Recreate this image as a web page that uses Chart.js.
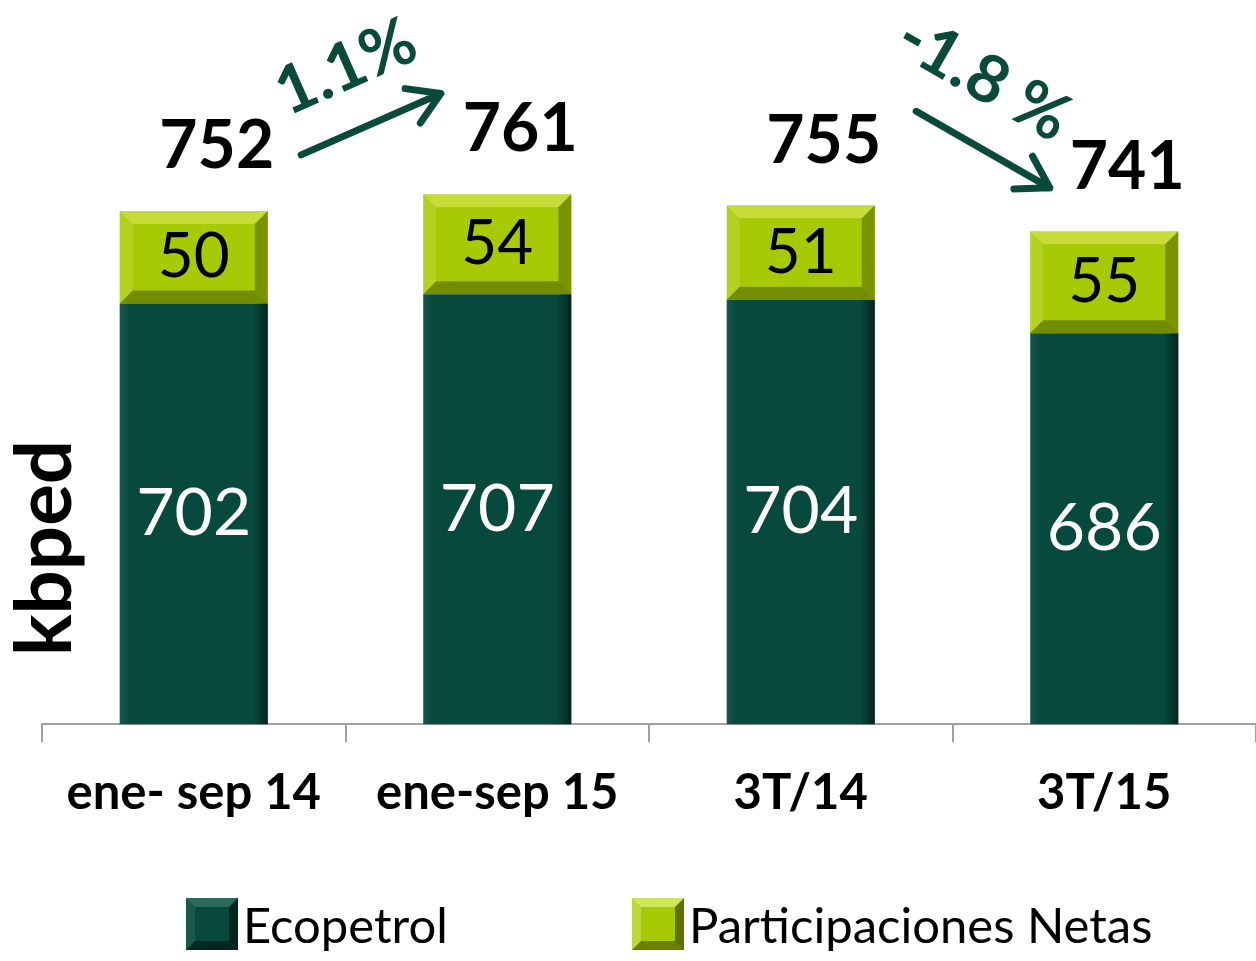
<!DOCTYPE html>
<html>
<head>
<meta charset="utf-8">
<script src="https://cdn.jsdelivr.net/npm/chart.js@4.4.0/dist/chart.umd.min.js"></script>
<style>
html, body { margin: 0; padding: 0; background: #fff; }
.wrap { position: relative; width: 1256px; height: 961px; }
.legend { position: absolute; left: 0; top: 898px; width: 1256px; height: 52px; font-family: Lato, sans-serif; font-size: 49px; color: #000; }
.item { position: absolute; top: 0; height: 52px; display: flex; align-items: center; white-space: nowrap; }
.box { display: inline-block; width: 52px; height: 52px; box-sizing: border-box; border: 9px solid; margin-right: 5px; }
</style>
</head>
<body>
<div class="wrap">
  <canvas id="chart"></canvas>
  <div class="legend" id="legend"></div>
</div>
<script>
const categories = ['ene- sep 14', 'ene-sep 15', '3T/14', '3T/15'];
const seriesNames = ['Ecopetrol', 'Participaciones Netas'];
const ecopetrol = [702, 707, 704, 686];
const participaciones = [50, 54, 51, 55];
const totals = [752, 761, 755, 741];
const changeFrom = [0, 2];
const changeTo = [1, 3];
const changeLabels = ['1.1%', '-1.8 %'];

const darkGreen = '#074a3d';
const lime = '#a6ca03';
const arrowGreen = '#0a4a3b';

Chart.defaults.font.family = 'Lato';

// bisel de las barras
const bevelPlugin = {
  id: 'bevel',
  afterDatasetsDraw(chart) {
    const ctx = chart.ctx;
    const area = chart.chartArea;
    chart.data.datasets.forEach((ds, d) => {
      chart.getDatasetMeta(d).data.forEach(bar => {
        const p = bar.getProps(['x', 'y', 'base', 'width'], true);
        const l = p.x - p.width / 2, r = p.x + p.width / 2;
        const t = Math.min(p.y, p.base), b = Math.min(Math.max(p.y, p.base), area.bottom);
        ctx.save();
        if (d === 1) {
          const s = 13;
          poly(ctx, [[l, t], [r, t], [r - s, t + s], [l + s, t + s]], 'rgba(255,255,160,0.35)');
          poly(ctx, [[l, t], [l + s, t + s], [l + s, b - s], [l, b]], 'rgba(255,255,200,0.15)');
          poly(ctx, [[r, t], [r, b], [r - s, b - s], [r - s, t + s]], 'rgba(40,50,0,0.35)');
          poly(ctx, [[l, b], [r, b], [r - s, b - s], [l + s, b - s]], 'rgba(40,50,0,0.4)');
        } else {
          const g = ctx.createLinearGradient(l, 0, r, 0);
          g.addColorStop(0, 'rgba(255,255,255,0.07)');
          g.addColorStop(0.07, 'rgba(255,255,255,0.0)');
          g.addColorStop(0.9, 'rgba(0,0,0,0.0)');
          g.addColorStop(1, 'rgba(0,0,0,0.5)');
          ctx.fillStyle = g;
          ctx.fillRect(l, t, r - l, b - t);
        }
        ctx.restore();
      });
    });
  }
};

function poly(ctx, pts, color) {
  ctx.beginPath();
  ctx.moveTo(pts[0][0], pts[0][1]);
  for (let i = 1; i < pts.length; i++) ctx.lineTo(pts[i][0], pts[i][1]);
  ctx.closePath();
  ctx.fillStyle = color;
  ctx.fill();
}

function arrow(ctx, x1, y1, x2, y2) {
  const a = Math.atan2(y2 - y1, x2 - x1);
  const h = 36;
  ctx.beginPath();
  ctx.moveTo(x1, y1);
  ctx.lineTo(x2, y2);
  ctx.moveTo(x2 - h * Math.cos(a - 0.55), y2 - h * Math.sin(a - 0.55));
  ctx.lineTo(x2, y2);
  ctx.lineTo(x2 - h * Math.cos(a + 0.55), y2 - h * Math.sin(a + 0.55));
  ctx.stroke();
}

const labelPlugin = {
  id: 'labels',
  afterDatasetsDraw(chart) {
    const ctx = chart.ctx;
    const area = chart.chartArea;
    const eco = chart.getDatasetMeta(0).data;
    const part = chart.getDatasetMeta(1).data;
    ctx.save();
    ctx.textAlign = 'center';
    ctx.textBaseline = 'middle';
    eco.forEach((bar, i) => {
      ctx.font = '66px Lato';
      ctx.fillStyle = '#fff';
      ctx.fillText(ecopetrol[i], bar.x, (bar.y + Math.min(bar.base, area.bottom)) / 2);
    });
    const boxes = [];
    part.forEach((bar, i) => {
      ctx.font = '62px Lato';
      ctx.fillStyle = '#000';
      ctx.fillText(participaciones[i], bar.x, (bar.y + bar.base) / 2);
      ctx.font = 'bold 66px Lato';
      const tx = bar.x + 23, ty = bar.y - 64;
      ctx.fillText(totals[i], tx, ty);
      const w = ctx.measureText(String(totals[i])).width;
      boxes.push({ l: tx - w / 2, r: tx + w / 2, y: ty });
    });
    // flechas de variacion
    ctx.strokeStyle = arrowGreen;
    ctx.fillStyle = arrowGreen;
    ctx.lineWidth = 7;
    ctx.lineCap = 'round';
    ctx.lineJoin = 'round';
    changeFrom.forEach((f, k) => {
      const a = boxes[f], b = boxes[changeTo[k]];
      const down = totals[changeTo[k]] < totals[f];
      const x1 = a.r + (down ? 35 : 27);
      const x2 = b.l - (down ? 20 : 22);
      const ang = down ? 0.52 : -0.414;
      const y1 = down ? a.y - 30 : a.y + 8;
      const y2 = y1 + (x2 - x1) * Math.tan(ang);
      arrow(ctx, x1, y1, x2, y2);
      const back = down ? 35 : 0;
      const mx = (x1 + x2) / 2 - back * Math.cos(ang), my = (y1 + y2) / 2 - back * Math.sin(ang);
      const off = 62;
      ctx.save();
      ctx.translate(mx + off * Math.sin(ang), my - off * Math.cos(ang));
      ctx.rotate(ang);
      ctx.font = 'bold 66px Lato';
      ctx.fillText(changeLabels[k], 0, 0);
      ctx.restore();
    });
    // titulo del eje
    ctx.save();
    ctx.translate(46, 548);
    ctx.rotate(-Math.PI / 2);
    ctx.font = 'bold 78px Lato';
    ctx.fillStyle = '#000';
    ctx.fillText('kbped', 0, 0);
    ctx.restore();
    ctx.restore();
  }
};

new Chart(document.getElementById('chart'), {
  type: 'bar',
  data: {
    labels: categories,
    datasets: [{
      label: seriesNames[0],
      data: ecopetrol,
      backgroundColor: darkGreen,
      borderWidth: 0
    }, {
      label: seriesNames[1],
      data: participaciones,
      backgroundColor: lime,
      borderWidth: 0
    }]
  },
  options: {
    responsive: true,
    maintainAspectRatio: false,
    animation: false,
    layout: { padding: { left: 42, right: 0, top: 20, bottom: 116 } },
    categoryPercentage: 1,
    barPercentage: 0.488,
    scales: {
      x: {
        stacked: true,
        border: { display: true, color: '#a0a0a0', width: 2 },
        grid: { display: true, drawOnChartArea: false, drawTicks: true, tickLength: 18, color: '#a0a0a0', lineWidth: 2 },
        ticks: { color: '#000', padding: 22, font: { size: 49, weight: 'bold' } }
      },
      y: {
        stacked: true,
        display: false,
        min: 475,
        max: 855
      }
    },
    plugins: {
      legend: { display: false },
      tooltip: { enabled: false }
    }
  },
  plugins: [bevelPlugin, labelPlugin]
});

// leyenda
const legend = document.getElementById('legend');
const legendLeft = [186, 632];
const legendBorders = [
  ['#2c6a5b', '#04261f', '#03281f', '#1a5a4b'],
  ['#cfe65a', '#5f7200', '#6c8000', '#bcd83a']
];
const legendFill = [darkGreen, lime];
seriesNames.forEach((name, i) => {
  const item = document.createElement('div');
  item.className = 'item';
  item.style.left = legendLeft[i] + 'px';
  const box = document.createElement('span');
  box.className = 'box';
  box.style.background = legendFill[i];
  box.style.borderColor = legendBorders[i].join(' ');
  item.appendChild(box);
  item.appendChild(document.createTextNode(name));
  legend.appendChild(item);
});
</script>
</body>
</html>
